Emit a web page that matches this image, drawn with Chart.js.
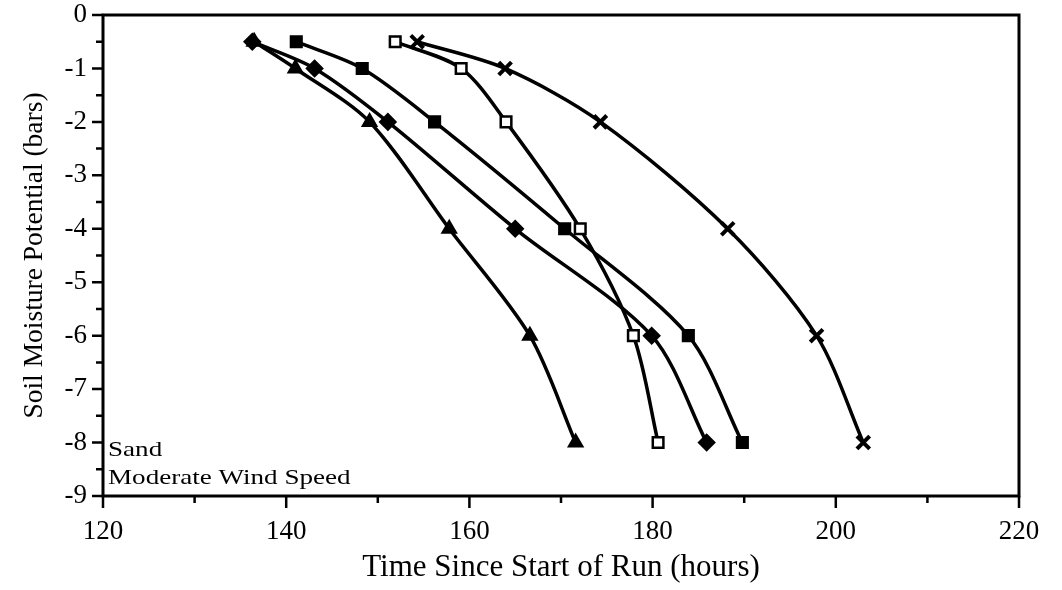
<!DOCTYPE html>
<html>
<head>
<meta charset="utf-8">
<title>Soil Moisture Potential - Sand</title>
<script src="https://cdn.jsdelivr.net/npm/chart.js@4/dist/chart.umd.min.js"></script>
<style>
  html, body { margin: 0; padding: 0; background: #fff; }
  #wrap { width: 1062px; height: 590px; }
</style>
</head>
<body>
<div id="wrap"><canvas id="c"></canvas></div>
<script>
// potenziale (bar) comune a tutte le serie
var levels = [-0.5, -1, -2, -4, -6, -8];

// ore dall'inizio della prova, una lista per curva
var hoursDiamond  = [136.3, 143.1, 151.1, 165.0, 179.9, 185.9];
var hoursTriangle = [136.5, 141.0, 149.1, 157.8, 166.6, 171.6];
var hoursSquare   = [141.1, 148.3, 156.2, 170.4, 183.9, 189.8];
var hoursOpenSq   = [151.9, 159.1, 164.0, 172.1, 177.9, 180.6];
var hoursCross    = [154.3, 163.9, 174.3, 188.2, 197.9, 203.0];

var xTicks = [120, 140, 160, 180, 200, 220];
var yTicks = [0, -1, -2, -3, -4, -5, -6, -7, -8, -9];
var notes = ["Sand", "Moderate Wind Speed"];

var SERIF = "'Liberation Serif', 'DejaVu Serif', serif";

function pts(hours) {
  return hours.map(function (h, i) { return { x: h, y: levels[i] }; });
}

function serie(hours, style, fill) {
  var cross = style === "crossRot";
  return {
    data: pts(hours),
    showLine: true,
    borderColor: "#000",
    borderWidth: 3.5,
    tension: 0.3,
    pointStyle: style,
    pointRadius: cross ? 9 : 7.5,
    pointBorderWidth: cross ? 4 : 2.5,
    pointBackgroundColor: fill,
    pointBorderColor: "#000",
    pointHoverRadius: 7.5
  };
}

// cornice, tacche principali/secondarie e note in basso a sinistra
var frame = {
  id: "frame",
  afterDraw: function (chart) {
    var ctx = chart.ctx, a = chart.chartArea;
    var sx = chart.scales.x, sy = chart.scales.y;
    ctx.save();
    ctx.strokeStyle = "#000";
    ctx.lineWidth = 3;
    ctx.strokeRect(a.left, a.top, a.right - a.left, a.bottom - a.top);
    ctx.lineWidth = 2.5;
    ctx.beginPath();
    for (var v = 0; v >= -9; v -= 0.5) {
      var py = sy.getPixelForValue(v);
      var len = (v % 1 === 0) ? 11 : 7;
      ctx.moveTo(a.left - len, py);
      ctx.lineTo(a.left, py);
    }
    for (var h = 120; h <= 220; h += 10) {
      var px = sx.getPixelForValue(h);
      var l2 = (h % 20 === 0) ? 12 : 7;
      ctx.moveTo(px, a.bottom);
      ctx.lineTo(px, a.bottom + l2);
    }
    ctx.stroke();
    // testo leggermente allargato come nell'originale
    ctx.fillStyle = "#000";
    ctx.font = "21px " + SERIF;
    ctx.textAlign = "left";
    ctx.textBaseline = "alphabetic";
    ctx.translate(a.left + 5, 0);
    ctx.scale(1.29, 1);
    ctx.fillText(notes[0], 0, a.bottom - 40);
    ctx.fillText(notes[1], 0, a.bottom - 12);
    ctx.restore();
  }
};

new Chart(document.getElementById("c"), {
  type: "scatter",
  data: {
    datasets: [
      serie(hoursDiamond, "rectRot", "#000"),
      serie(hoursTriangle, "triangle", "#000"),
      serie(hoursSquare, "rect", "#000"),
      serie(hoursOpenSq, "rect", "#fff"),
      serie(hoursCross, "crossRot", "#000")
    ]
  },
  options: {
    responsive: true,
    maintainAspectRatio: false,
    animation: false,
    layout: { padding: { top: 15, right: 43, left: 0, bottom: 0 } },
    plugins: { legend: { display: false }, tooltip: { enabled: false } },
    scales: {
      x: {
        type: "linear",
        min: 120, max: 220,
        grid: { display: false },
        border: { display: false },
        afterBuildTicks: function (s) { s.ticks = xTicks.map(function (v) { return { value: v }; }); },
        afterFit: function (s) { s.height = 94; s.paddingLeft = 0; s.paddingRight = 0; },
        ticks: { color: "#000", padding: 12, font: { family: SERIF, size: 27 } },
        title: {
          display: true,
          text: "Time Since Start of Run (hours)",
          color: "#000",
          padding: { top: 0 },
          font: { family: SERIF, size: 31 }
        }
      },
      y: {
        type: "linear",
        min: -9, max: 0,
        grid: { display: false },
        border: { display: false },
        afterBuildTicks: function (s) { s.ticks = yTicks.map(function (v) { return { value: v }; }); },
        afterFit: function (s) { s.width = 103; s.paddingTop = 0; s.paddingBottom = 0; },
        ticks: { color: "#000", padding: 8, font: { family: SERIF, size: 27 } },
        title: {
          display: true,
          text: "Soil Moisture Potential (bars)",
          color: "#000",
          padding: { top: 18, bottom: 0 },
          font: { family: SERIF, size: 27.5 }
        }
      }
    }
  },
  plugins: [frame]
});
</script>
</body>
</html>
